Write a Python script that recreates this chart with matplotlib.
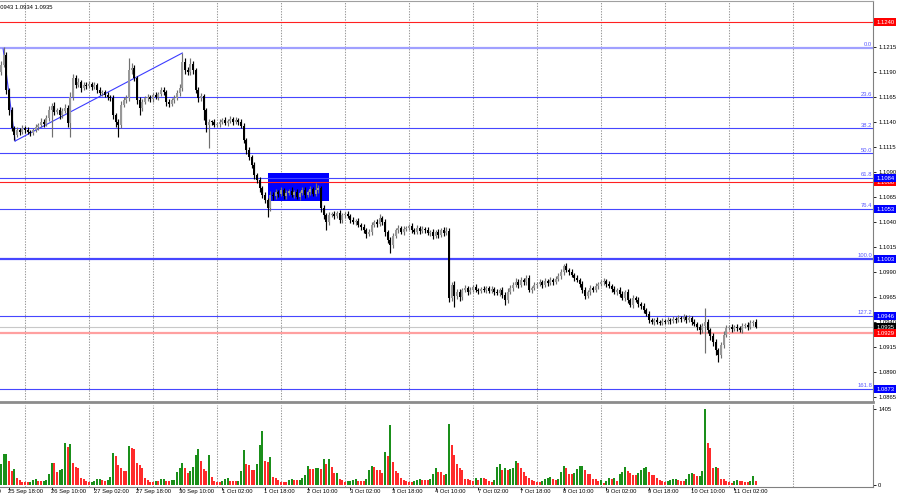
import numpy as np
import matplotlib
matplotlib.use('Agg')
import matplotlib.pyplot as plt
from matplotlib.patches import Rectangle
from matplotlib.transforms import blended_transform_factory

plt.rcParams['font.family'] = ['Liberation Sans', 'DejaVu Sans']

# EURUSD H1 - bar 0 is 25 Sep 18:00, first visible bar is 25 Sep 15:00
first_bar = -3
first_open = 11190

# closes in points (1.1197 -> 11197), one list per trading day
close_pts = (
    [11197, 11207, 11172, 11152, 11134, 11127, 11132, 11130, 11134]
    + [11132, 11130, 11129, 11132, 11135, 11137, 11140, 11138, 11144, 11152, 11156, 11150,
       11152, 11147, 11151, 11154, 11139, 11165, 11184, 11177, 11180, 11174, 11177, 11176]
    + [11178, 11175, 11177, 11172, 11169, 11170, 11167, 11165, 11164, 11147, 11140, 11137,
       11157, 11162, 11164, 11192, 11194, 11184, 11162, 11154, 11160, 11164, 11165, 11163]
    + [11167, 11165, 11168, 11172, 11170, 11160, 11158, 11162, 11164, 11169, 11174, 11200,
       11192, 11190, 11198, 11192, 11172, 11164, 11166, 11152, 11137, 11140, 11140, 11137]
    + [11138, 11140, 11142, 11139, 11141, 11143, 11140, 11142, 11140, 11136, 11122, 11112,
       11105, 11097, 11087, 11082, 11074, 11067, 11062, 11054, 11067, 11066, 11070, 11068]
    + [11072, 11066, 11069, 11071, 11067, 11070, 11065, 11069, 11072, 11067, 11070, 11073,
       11068, 11072, 11074, 11054, 11047, 11040, 11047, 11048, 11046, 11049, 11042, 11047]
    + [11048, 11046, 11042, 11040, 11041, 11037, 11035, 11032, 11028, 11030, 11037, 11040,
       11038, 11044, 11040, 11030, 11022, 11017, 11026, 11032, 11034, 11030, 11033, 11034]
    + [11036, 11032, 11030, 11034, 11031, 11033, 11032, 11029, 11030, 11026, 11030, 11027,
       11032, 11029, 11031, 10964, 10977, 10966, 10970, 10965, 10972, 10974, 10970, 10972]
    + [10975, 10972, 10971, 10973, 10972, 10974, 10971, 10973, 10970, 10969, 10972, 10967,
       10962, 10970, 10974, 10977, 10980, 10977, 10982, 10980, 10984, 10972, 10974, 10977]
    + [10978, 10980, 10977, 10981, 10979, 10982, 10980, 10983, 10986, 10990, 10996, 10992,
       10990, 10987, 10984, 10982, 10978, 10972, 10966, 10970, 10974, 10972, 10976, 10978]
    + [10980, 10981, 10978, 10976, 10973, 10970, 10972, 10968, 10964, 10970, 10962, 10957,
       10964, 10962, 10958, 10956, 10952, 10948, 10942, 10940, 10942, 10940, 10939, 10941]
    + [10940, 10942, 10941, 10943, 10942, 10944, 10943, 10945, 10942, 10944, 10940, 10938,
       10935, 10932, 10936, 10940, 10932, 10926, 10920, 10912, 10907, 10917, 10927, 10934]
    + [10935, 10933, 10935, 10934, 10932, 10936, 10937, 10935, 10939, 10940, 10935]
)

# wick lengths in points above/below the body
wick_up = (
    [4, 8, 3, 2, 3, 2, 3, 2, 3]
    + [2, 3, 2, 2, 3, 2, 4, 3, 3, 4, 3, 4, 2, 3, 3, 4, 3, 5, 4, 3, 4, 2, 3, 3]
    + [3, 2, 3, 2, 3, 2, 2, 3, 2, 3, 2, 3, 4, 3, 3, 12, 5, 3, 2, 3, 3, 2, 3, 2]
    + [2, 3, 2, 3, 3, 2, 3, 2, 3, 3, 4, 9, 4, 3, 6, 3, 2, 3, 3, 2, 2, 3, 2, 3]
    + [2, 3, 2, 3, 2, 3, 2, 3, 2, 3, 3, 2, 3, 2, 3, 2, 3, 2, 3, 2, 4, 3, 3, 2]
    + [3, 2, 3, 2, 4, 2, 3, 2, 3, 3, 2, 3, 2, 7, 3, 2, 3, 2, 3, 2, 3, 2, 3, 2]
    + [2, 3, 2, 3, 2, 3, 2, 3, 2, 3, 3, 2, 3, 4, 2, 3, 2, 3, 3, 2, 3, 2, 3, 2]
    + [2, 3, 2, 3, 2, 3, 2, 3, 2, 3, 2, 3, 2, 3, 4, 3, 3, 4, 3, 3, 2, 3, 2, 3]
    + [2, 3, 2, 2, 3, 2, 2, 3, 2, 3, 2, 3, 3, 4, 3, 3, 4, 3, 3, 2, 3, 3, 2, 3]
    + [2, 3, 2, 3, 2, 3, 2, 3, 3, 3, 2, 3, 2, 3, 2, 3, 2, 3, 3, 2, 3, 2, 3, 2]
    + [2, 3, 2, 3, 2, 3, 2, 3, 3, 2, 3, 2, 3, 2, 3, 2, 3, 2, 3, 2, 2, 3, 2, 3]
    + [2, 3, 2, 3, 2, 3, 2, 3, 2, 3, 2, 3, 2, 3, 3, 14, 3, 2, 3, 3, 2, 3, 4, 3]
    + [2, 3, 2, 3, 2, 3, 2, 3, 3, 2, 3]
)
wick_dn = (
    [3, 2, 4, 5, 3, 5, 2, 3, 2]
    + [3, 2, 3, 2, 2, 3, 2, 3, 2, 3, 27, 3, 2, 4, 3, 2, 4, 14, 3, 3, 2, 4, 2, 3]
    + [2, 3, 2, 3, 2, 3, 2, 3, 3, 4, 5, 12, 3, 2, 3, 3, 4, 3, 4, 7, 3, 2, 3, 3]
    + [3, 2, 3, 2, 3, 4, 3, 2, 3, 2, 3, 3, 4, 3, 3, 4, 3, 4, 3, 10, 7, 23, 3, 2]
    + [2, 3, 2, 2, 3, 2, 3, 2, 3, 2, 3, 4, 3, 3, 4, 3, 4, 3, 3, 9, 3, 4, 3, 3]
    + [2, 3, 3, 2, 2, 3, 2, 3, 2, 3, 2, 3, 2, 2, 3, 4, 4, 8, 3, 2, 3, 2, 3, 3]
    + [3, 2, 3, 2, 3, 2, 3, 3, 4, 2, 3, 2, 3, 2, 3, 4, 3, 8, 3, 2, 3, 2, 3, 2]
    + [2, 3, 2, 2, 3, 2, 3, 2, 3, 3, 2, 3, 2, 3, 2, 4, 3, 11, 3, 4, 3, 2, 3, 2]
    + [2, 2, 3, 2, 2, 3, 2, 2, 3, 2, 3, 3, 5, 3, 2, 3, 2, 3, 2, 3, 3, 2, 3, 2]
    + [3, 2, 3, 2, 3, 2, 3, 2, 2, 3, 3, 2, 3, 2, 3, 2, 3, 3, 3, 2, 3, 2, 2, 3]
    + [2, 3, 3, 2, 3, 2, 3, 3, 2, 3, 3, 2, 3, 2, 3, 3, 3, 2, 3, 2, 3, 2, 2, 2]
    + [2, 2, 3, 2, 3, 2, 3, 2, 3, 2, 3, 2, 3, 4, 3, 27, 3, 4, 4, 5, 7, 3, 3, 2]
    + [2, 3, 2, 3, 2, 3, 2, 3, 2, 3, 1]
)

# tick volume
volume = (
    [388, 567, 573, 450, 259, 296, 123, 86, 62]
    + [49, 49, 55, 92, 105, 80, 80, 82, 92, 203, 407, 400, 234, 271, 296, 782, 702, 758, 413, 333, 308, 123, 105, 80]
    + [49, 52, 80, 111, 117, 92, 80, 84, 148, 585, 536, 363, 320, 253, 250, 721, 690, 659, 400, 370, 314, 123, 99, 62]
    + [55, 80, 74, 111, 117, 80, 78, 84, 92, 234, 308, 413, 320, 228, 259, 333, 548, 665, 444, 296, 253, 548, 148, 74]
    + [55, 49, 80, 111, 123, 80, 78, 74, 80, 265, 647, 382, 363, 277, 270, 388, 733, 1004, 450, 419, 524, 142, 136, 92]
    + [55, 52, 50, 92, 111, 86, 84, 92, 129, 191, 357, 296, 290, 314, 322, 296, 474, 388, 474, 333, 222, 228, 105, 86]
    + [62, 66, 70, 99, 102, 80, 78, 76, 111, 283, 351, 333, 277, 275, 222, 616, 530, 1103, 425, 259, 216, 123, 92, 74]
    + [62, 49, 74, 99, 105, 92, 90, 88, 105, 209, 308, 246, 234, 185, 203, 1121, 739, 554, 382, 320, 277, 111, 108, 92]
    + [80, 123, 92, 136, 123, 120, 80, 55, 92, 333, 382, 277, 308, 277, 290, 308, 444, 413, 308, 246, 166, 123, 92, 74]
    + [62, 49, 80, 111, 123, 154, 111, 86, 111, 246, 351, 308, 203, 200, 216, 296, 351, 355, 277, 197, 195, 105, 103, 74]
    + [86, 43, 74, 123, 111, 136, 74, 203, 234, 339, 259, 216, 185, 183, 216, 271, 320, 326, 234, 185, 183, 123, 86, 74]
    + [55, 74, 86, 105, 108, 86, 74, 72, 105, 203, 216, 197, 172, 175, 259, 1405, 770, 678, 308, 333, 308, 111, 105, 74]
    + [49, 43, 80, 86, 80, 78, 62, 49, 74, 166, 74]
)

tick_bars = [-16, 0, 16, 32, 48, 64, 80, 96, 112, 128, 144, 160, 176, 192, 208, 224, 240, 256, 272]
tick_labels = ['25 Sep 02:00', '25 Sep 18:00', '26 Sep 10:00', '27 Sep 02:00', '27 Sep 18:00',
               '30 Sep 10:00', '1 Oct 02:00', '1 Oct 18:00', '2 Oct 10:00', '3 Oct 02:00',
               '3 Oct 18:00', '4 Oct 10:00', '7 Oct 02:00', '7 Oct 18:00', '8 Oct 10:00',
               '9 Oct 02:00', '9 Oct 18:00', '10 Oct 10:00', '11 Oct 02:00']
midnight_bars = [6, 30, 54, 78, 102, 126, 150, 174, 198, 222, 246, 270, 294]
price_ticks = [1.1215, 1.1190, 1.1165, 1.1140, 1.1115, 1.1090, 1.1065, 1.1040, 1.1015,
               1.0990, 1.0965, 1.0940, 1.0915, 1.0890, 1.0865]

# fibo retracement
fib_high = 1.12144
fib_low = 1.10034
fib_ratios = [0.0, 23.6, 38.2, 50.0, 61.8, 76.4, 100.0, 127.2, 161.8]
fib_boxed = [61.8, 76.4, 100.0, 127.2, 161.8]

# other objects
red_levels = [1.1240, 1.1080]
support_level = 1.0929
bid = 1.0935
rect_t0, rect_t1 = 97, 120
rect_lo, rect_hi = 1.1061, 1.1089
trend1_t, trend1_p = [-2.2, 2.3], [1.1213, 1.1121]
trend2_t, trend2_p = [2.3, 65], [1.1121, 1.1209]

fs = 4.2
x_view = (-3.375, 324)
bars = np.arange(first_bar, first_bar + len(close_pts))
c = np.array(close_pts) / 1e4
o = np.concatenate([[first_open], close_pts[:-1]]) / 1e4
hi = np.maximum(o, c) + np.array(wick_up) / 1e4
lo = np.minimum(o, c) - np.array(wick_dn) / 1e4
bull = c > o

fig = plt.figure(figsize=(9, 5), dpi=100)
ax = fig.add_axes([0, 98 / 500, 873 / 900, 401 / 500])
axv = fig.add_axes([0, 13 / 500, 873 / 900, 82 / 500])

for a in (ax, axv):
    for g in midnight_bars:
        a.axvline(g, color='#9a9a9a', lw=0.75, ls=(0, (1.3, 1.3)), zorder=0.5)
    a.spines['left'].set_visible(False)
    a.spines['right'].set_color('#808080')

ax.set_ylim(1.0860, 1.1261)

# objects behind the candles
ax.add_patch(Rectangle((rect_t0, rect_lo), rect_t1 - rect_t0, rect_hi - rect_lo,
                       facecolor='#0000ff', edgecolor='none', zorder=1))
ax.plot(trend1_t, trend1_p, color='#3c3cff', lw=0.8, zorder=2)
ax.plot(trend2_t, trend2_p, color='#3c3cff', lw=0.8, zorder=2)

trans = blended_transform_factory(ax.transAxes, ax.transData)
for r in fib_ratios:
    lev = fib_high - (fib_high - fib_low) * r / 100
    if r == 0.0:
        ax.axhline(lev, color='#a0a0ff', lw=1.6, zorder=1.5)
    elif r == 100.0:
        ax.axhline(lev, color='#4646ff', lw=1.6, zorder=1.5)
    else:
        ax.axhline(lev, color='#4646ff', lw=0.8, zorder=1.5)
    ax.text(0.999, lev + 0.00005, f'{r:.1f}', transform=trans, ha='right', va='bottom',
            color='#5a5aff', fontsize=fs, zorder=6)

for lv in red_levels:
    ax.axhline(lv, color='#ff2020', lw=0.8, zorder=1.6)
ax.axhline(support_level, color='#ffa0a0', lw=1.6, zorder=1.6)
ax.axhline(bid, color='#c8c8c8', lw=0.8, zorder=1.6)

# candles
ax.vlines(bars[bull], lo[bull], hi[bull], color='#707070', lw=0.85, zorder=3)
ax.vlines(bars[~bull], lo[~bull], hi[~bull], color='black', lw=0.85, zorder=3)
body = np.maximum(np.abs(c - o), 0.00009)
ax.bar(bars, body, bottom=np.minimum(o, c), width=0.8,
       color=np.where(bull, '#989898', '#000000'), linewidth=0, zorder=4)

# price scale
ax.yaxis.tick_right()
ax.set_yticks(price_ticks)
ax.set_yticklabels([f'{p:.4f}' for p in price_ticks])
ax.tick_params(axis='y', length=2.5, width=0.6, pad=1.2, labelsize=fs)
ax.set_xticks([])
ax.spines['top'].set_color('#a0a0a0')
ax.spines['bottom'].set_color('#8c8c8c')
ax.spines['bottom'].set_linewidth(2)


def price_box(val, color):
    ax.text(1.0035, val, f'{val:.4f}', transform=trans, ha='left', va='center', color='white',
            fontsize=fs, zorder=10, clip_on=False,
            bbox=dict(boxstyle='square,pad=0.28', fc=color, ec='none'))


price_box(red_levels[0], '#ff0000')
price_box(red_levels[1], '#ff0000')
for r in fib_boxed:
    price_box(round(fib_high - (fib_high - fib_low) * r / 100, 4), '#0000ff')
price_box(bid, '#000000')
price_box(support_level, '#ff0000')

fig.text(52 / 900, 1 - 6.5 / 500, 'EURUSD,H1  1.0943 1.0943 1.0934 1.0935',
         ha='right', va='center', fontsize=fs)

# volumes: green when above previous bar, red otherwise
vol = np.array(volume)
rising = np.concatenate([[True], vol[1:] > vol[:-1]])
axv.bar(bars, vol, width=0.75, color=np.where(rising, '#1a8f1a', '#ff2a2a'), linewidth=0, zorder=3)
axv.set_ylim(-37, 1479)
axv.yaxis.tick_right()
axv.set_yticks([0, 1405])
axv.set_yticklabels(['0', '1405'])
axv.tick_params(axis='y', length=2.5, width=0.6, pad=1.2, labelsize=fs)

# time scale: labels start at their bar, MT4 style
axv.set_xticks(tick_bars)
axv.set_xticklabels([])
axv.tick_params(axis='x', length=2, width=0.6)
tx = blended_transform_factory(axv.transData, axv.transAxes)
for tb, lab in zip(tick_bars, tick_labels):
    axv.text(tb - 0.3, -0.03, lab, transform=tx, ha='left', va='top', fontsize=fs, clip_on=False)
axv.spines['top'].set_visible(False)
axv.spines['bottom'].set_color('#808080')

# set_xticks widens the view, so fix the limits last
ax.set_xlim(*x_view)
axv.set_xlim(*x_view)

fig.savefig('out.png', dpi=100)
